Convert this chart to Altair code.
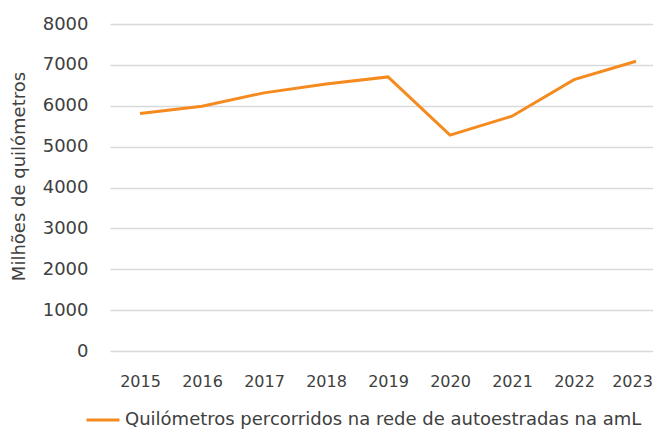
import altair as alt
import pandas as pd

years = [2015, 2016, 2017, 2018, 2019, 2020, 2021, 2022, 2023]
values = [5810, 5990, 6315, 6530, 6705, 5280, 5745, 6640, 7090]
series_name = "Quilómetros percorridos na rede de autoestradas na amL"

df = pd.DataFrame({"ano": years, "valor": values, "serie": [series_name] * len(years)})

FONT = "DejaVu Sans"
TXT = "#404040"

chart = alt.Chart(df).mark_line(strokeWidth=3).encode(
    x=alt.X("ano:Q", scale=alt.Scale(domain=[2014.516, 2023.274], nice=False, zero=False),
            axis=alt.Axis(title=None, domain=False, ticks=False, grid=False, labelAngle=0,
                          values=years, format="d", labelFlush=False,
                          labelOffset={"condition": {"test": "datum.value == 2023", "value": -4}, "value": 0},
                          labelPadding=22, labelFontSize=16, labelColor=TXT, labelFont=FONT)),
    y=alt.Y("valor:Q", scale=alt.Scale(domain=[0, 8000]),
            axis=alt.Axis(title="Milhões de quilómetros", values=list(range(0, 8001, 1000)),
                          format="d", domain=False, ticks=False, labelPadding=22, labelFontSize=18,
                          labelColor=TXT, labelFont=FONT, titleFontSize=18, titleFont=FONT,
                          titleColor=TXT, titleFontWeight="normal", titlePadding=14, titleY=152,
                          gridColor="#d9d9d9", gridWidth=1.5)),
    color=alt.Color("serie:N", scale=alt.Scale(range=["#F58A1F"]),
                    legend=alt.Legend(title=None, orient="none", legendX=-25, legendY=378,
                                      symbolType="stroke", symbolSize=1089, symbolStrokeWidth=3,
                                      symbolStrokeColor="#F58A1F",
                                      labelFontSize=18, labelFont=FONT, labelColor=TXT,
                                      labelLimit=700, labelOffset=4)),
).properties(
    width=543, height=327,
    autosize=alt.AutoSizeParams(type="none"),
    padding={"left": 102, "top": 16, "right": 0, "bottom": 80},
).configure_view(stroke=None)

chart.save("out.html", embed_options={"renderer": "svg", "actions": False})
